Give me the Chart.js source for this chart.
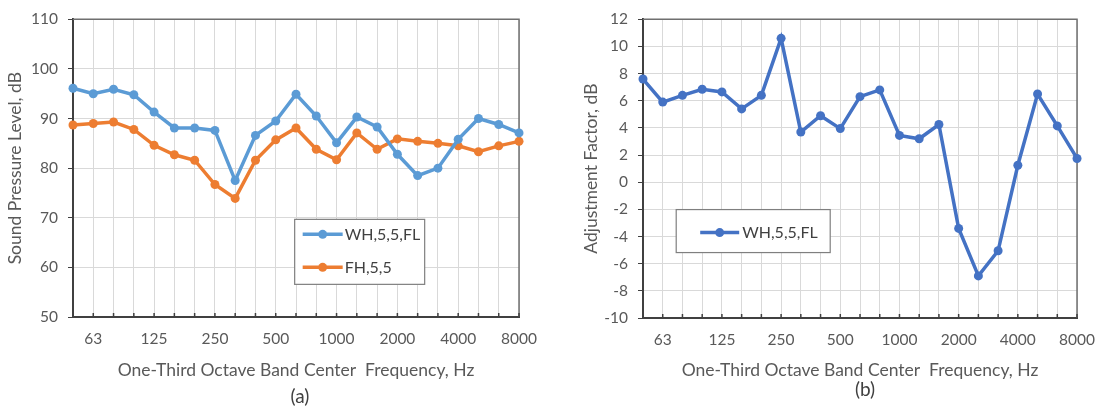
<!DOCTYPE html>
<html>
<head>
<meta charset="utf-8">
<script src="https://cdn.jsdelivr.net/npm/chart.js@4/dist/chart.umd.min.js"></script>
<style>
body { margin: 0; background: #fff; width: 1108px; height: 407px; overflow: hidden; position: relative; font-family: Lato, sans-serif; }
#wrapA { position: absolute; left: 0; top: 0; width: 550px; height: 407px; }
#wrapB { position: absolute; left: 555px; top: 0; width: 553px; height: 407px; }
.cap { position: absolute; font-size: 19px; color: #404040; transform: translate(-50%, -50%); }
</style>
</head>
<body>
<div id="wrapA"><canvas id="chartA" width="550" height="407"></canvas></div>
<div id="wrapB"><canvas id="chartB" width="553" height="407"></canvas></div>
<div class="cap" style="left:300px; top:395px;">(a)</div>
<div class="cap" style="left:865px; top:388px;">(b)</div>
<script>
// One-third octave band centre frequencies, Hz
const freqs = ['50', '63', '80', '100', '125', '160', '200', '250', '315', '400', '500', '630',
    '800', '1000', '1250', '1600', '2000', '2500', '3150', '4000', '5000', '6300', '8000'];
const tickLabels = ['63', '125', '250', '500', '1000', '2000', '4000', '8000'];

// (a) sound pressure level, dB
const whFl = [96.1, 95.0, 95.9, 94.8, 91.3, 88.1, 88.1, 87.6, 77.5, 86.6, 89.5, 94.9,
    90.5, 85.1, 90.3, 88.3, 82.8, 78.5, 80.0, 85.8, 90.0, 88.8, 87.1];
const fh55 = [88.7, 89.0, 89.3, 87.8, 84.6, 82.7, 81.6, 76.7, 73.9, 81.6, 85.7, 88.1,
    83.8, 81.7, 87.1, 83.8, 85.9, 85.4, 85.0, 84.5, 83.3, 84.5, 85.4];

// (b) adjustment factor, dB
const adjust = [7.6, 5.9, 6.4, 6.85, 6.65, 5.4, 6.4, 10.6, 3.7, 4.9, 3.95, 6.3,
    6.8, 3.45, 3.2, 4.25, -3.4, -6.9, -5.05, 1.25, 6.5, 4.15, 1.75];

const tickColor = '#595959';
const gridColor = '#d9d9d9';

// top/right frame and small inward ticks on the bottom axis
const framePlugin = {
    id: 'frame',
    beforeDatasetsDraw(chart) {
        const { ctx, chartArea: a, scales: { x } } = chart;
        ctx.save();
        ctx.strokeStyle = '#6f6f6f';
        ctx.lineWidth = 1.5;
        ctx.beginPath();
        ctx.moveTo(a.left, a.top);
        ctx.lineTo(a.right, a.top);
        ctx.lineTo(a.right, a.bottom);
        ctx.stroke();
        ctx.strokeStyle = '#404040';
        ctx.beginPath();
        x.ticks.forEach((t, i) => {
            const px = x.getPixelForTick(i);
            ctx.moveTo(px, a.bottom);
            ctx.lineTo(px, a.bottom - 4);
        });
        ctx.stroke();
        ctx.restore();
    }
};

// Excel-style boxed legend inside the plot
const boxLegend = {
    id: 'boxLegend',
    afterDraw(chart, args, opts) {
        const { ctx, chartArea: a } = chart;
        const bx = a.left + opts.fx * (a.right - a.left);
        const by = a.top + opts.fy * (a.bottom - a.top);
        ctx.save();
        ctx.fillStyle = '#fff';
        ctx.fillRect(bx, by, opts.w, opts.h);
        ctx.strokeStyle = '#7f7f7f';
        ctx.lineWidth = 1.2;
        ctx.strokeRect(bx, by, opts.w, opts.h);
        chart.data.datasets.forEach((ds, i) => {
            const y = by + opts.rowY[i];
            ctx.strokeStyle = ds.borderColor;
            ctx.lineWidth = ds.borderWidth;
            ctx.beginPath();
            ctx.moveTo(bx + opts.lineX0, y);
            ctx.lineTo(bx + opts.lineX1, y);
            ctx.stroke();
            ctx.fillStyle = ds.borderColor;
            ctx.beginPath();
            ctx.arc(bx + (opts.lineX0 + opts.lineX1) / 2, y, ds.pointRadius, 0, Math.PI * 2);
            ctx.fill();
            ctx.fillStyle = '#404040';
            ctx.font = '16px Lato';
            ctx.textBaseline = 'middle';
            ctx.fillText(ds.label, bx + opts.textX, y);
        });
        ctx.restore();
    }
};

function lineSet(label, data, color) {
    return {
        label: label,
        data: data,
        borderColor: color,
        backgroundColor: color,
        borderWidth: 3.5,
        pointRadius: 4.5,
        pointBorderWidth: 0,
        tension: 0,
        clip: false
    };
}

function buildOptions(cfg) {
    return {
        responsive: false,
        animation: false,
        layout: { padding: { top: cfg.top, right: cfg.right, left: 0, bottom: 0 } },
        plugins: {
            legend: { display: false },
            tooltip: { enabled: false },
            boxLegend: cfg.legend
        },
        scales: {
            x: {
                afterFit: s => { s.height = 407 - cfg.bottom; },
                grid: { color: gridColor, drawTicks: false },
                border: { color: '#404040', width: 2 },
                ticks: {
                    autoSkip: false,
                    maxRotation: 0,
                    padding: 13,
                    color: tickColor,
                    font: { family: 'Lato', size: 15.5 },
                    callback: (v, i) => tickLabels.includes(freqs[i]) ? freqs[i] : ''
                },
                title: {
                    display: true,
                    text: 'One-Third Octave Band Center  Frequency, Hz',
                    color: tickColor,
                    font: { family: 'Lato', size: 17.5 },
                    padding: { top: 4, bottom: 26.5 }
                }
            },
            y: {
                min: cfg.min,
                max: cfg.max,
                afterFit: s => { s.width = cfg.left; },
                grid: { color: gridColor, tickColor: '#404040', tickLength: 5 },
                border: { color: '#404040', width: 2 },
                ticks: {
                    stepSize: cfg.step,
                    padding: 10,
                    color: tickColor,
                    font: { family: 'Lato', size: 15.5 }
                },
                title: {
                    display: true,
                    text: cfg.yTitle,
                    color: tickColor,
                    font: { family: 'Lato', size: 17.5 },
                    padding: { top: cfg.titlePad, bottom: 0 }
                }
            }
        }
    };
}

new Chart(document.getElementById('chartA').getContext('2d'), {
    type: 'line',
    data: {
        labels: freqs,
        datasets: [
            lineSet('WH,5,5,FL', whFl, '#5B9BD5'),
            lineSet('FH,5,5', fh55, '#ED7D31')
        ]
    },
    options: buildOptions({
        top: 15, right: 22, bottom: 317, left: 73,
        min: 50, max: 110, step: 10,
        yTitle: 'Sound Pressure Level, dB', titlePad: 4.5,
        legend: { fx: 0.497, fy: 0.672, w: 130, h: 65, rowY: [15, 48], lineX0: 8, lineX1: 48, textX: 50 }
    }),
    plugins: [framePlugin, boxLegend]
});

new Chart(document.getElementById('chartB').getContext('2d'), {
    type: 'line',
    data: {
        labels: freqs,
        datasets: [lineSet('WH,5,5,FL', adjust, '#4472C4')]
    },
    options: buildOptions({
        top: 19, right: 20, bottom: 318, left: 88,
        min: -10, max: 12, step: 2,
        yTitle: 'Adjustment Factor, dB', titlePad: 26,
        legend: { fx: 0.0765, fy: 0.637, w: 154, h: 43, rowY: [23], lineX0: 24, lineX1: 63, textX: 66 }
    }),
    plugins: [framePlugin, boxLegend]
});
</script>
</body>
</html>
